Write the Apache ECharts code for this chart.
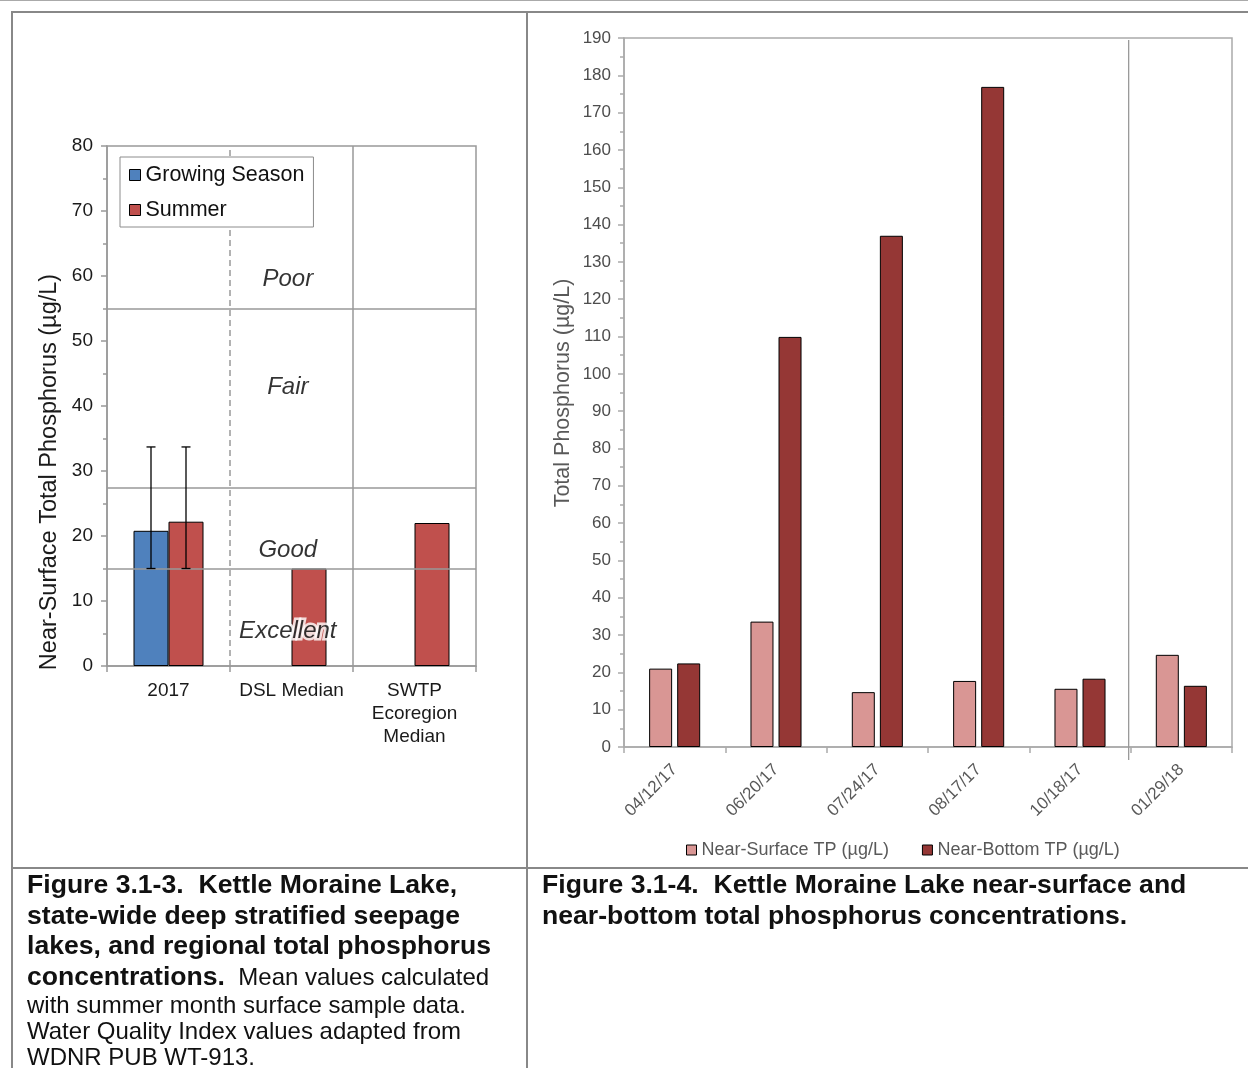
<!DOCTYPE html>
<html>
<head>
<meta charset="utf-8">
<script src="https://cdn.jsdelivr.net/npm/echarts@6/dist/echarts.min.js"></script>
<style>
html,body{margin:0;padding:0;background:#fff;}
#c{width:1248px;height:1068px;}
</style>
</head>
<body>
<div id="c"></div>
<script>
// ---------- Data: Figure 3.1-3 ----------
const cats1 = ['2017', 'DSL Median', 'SWTP\nEcoregion\nMedian'];
const growing = [20.8, null, null];
const summer = [22.2, 15.0, 22.0];
const growingErrLow = [15.0, null, null];
const growingErrHigh = [33.7, null, null];
const summerErrLow = [15.0, null, null];
const summerErrHigh = [33.7, null, null];
const qualityNames = ['Poor', 'Fair', 'Good', 'Excellent'];
const qualityLabelY = [59.5, 42.9, 17.8, 5.4];
const qualityLabelX = [1.47, 1.47, 1.47, 1.47];
const qualityBounds = [55, 27.5, 15];
const y1Max = 80, y1Step = 10;

// ---------- Data: Figure 3.1-4 ----------
const dates = ['04/12/17', '06/20/17', '07/24/17', '08/17/17', '10/18/17', '01/29/18'];
const surfaceTP = [21.0, 33.6, 14.7, 17.7, 15.6, 24.7];
const bottomTP = [22.4, 109.9, 137.0, 176.9, 18.3, 16.4];
const y2Max = 190, y2Step = 10;
const separatorAt = 5; // boundary between 10/18/17 and 01/29/18

const FONT = "'Liberation Sans', Arial, sans-serif";
const chart = echarts.init(document.getElementById('c'), null, {renderer: 'canvas'});

const errData = [];
growing.forEach((v, i) => { if (growingErrLow[i] != null) errData.push([i, growingErrLow[i], growingErrHigh[i], -1]); });
summer.forEach((v, i) => { if (summerErrLow[i] != null) errData.push([i, summerErrLow[i], summerErrHigh[i], 1]); });

const BAR1 = 35;

const frameColor = '#888';
const graphics = [
  {type: 'line', shape: {x1: 0, y1: 0.5, x2: 1248, y2: 0.5}, style: {stroke: '#aaa', lineWidth: 1}},
  {type: 'line', shape: {x1: 11, y1: 12, x2: 1248, y2: 12}, style: {stroke: frameColor, lineWidth: 2}},
  {type: 'line', shape: {x1: 12, y1: 11, x2: 12, y2: 1068}, style: {stroke: frameColor, lineWidth: 2}},
  {type: 'line', shape: {x1: 527, y1: 12, x2: 527, y2: 1068}, style: {stroke: frameColor, lineWidth: 2}},
  {type: 'line', shape: {x1: 12, y1: 868, x2: 1248, y2: 868}, style: {stroke: frameColor, lineWidth: 2}},
  {type: 'text', x: 50, y: 472, rotation: Math.PI / 2,
    style: {text: 'Near-Surface Total Phosphorus (µg/L)', font: '23.5px ' + FONT, fill: '#1a1a1a', textAlign: 'center', textVerticalAlign: 'middle'}},
  {type: 'text', x: 563, y: 393, rotation: Math.PI / 2,
    style: {text: 'Total Phosphorus (µg/L)', font: '21.5px ' + FONT, fill: '#595959', textAlign: 'center', textVerticalAlign: 'middle'}}
];
const capB = 'bold 26.6px ' + FONT, capR = '24px ' + FONT;
const leftBold = ['Figure 3.1-3.  Kettle Moraine Lake,', 'state-wide deep stratified seepage', 'lakes, and regional total phosphorus'];
const boldY = [886, 917, 947, 978];
leftBold.forEach((t, i) => graphics.push({type: 'text', x: 27, y: boldY[i], style: {text: t, font: capB, fill: '#111', textVerticalAlign: 'middle'}}));
graphics.push({type: 'text', x: 27, y: boldY[3], style: {
  text: '{b|concentrations.}{r|  Mean values calculated}', textVerticalAlign: 'middle',
  rich: {b: {font: capB, fill: '#111'}, r: {font: capR, fill: '#111'}}}});
const leftReg = ['with summer month surface sample data.', 'Water Quality Index values adapted from', 'WDNR PUB WT-913.'];
const regY = [1006, 1032, 1058];
leftReg.forEach((t, i) => graphics.push({type: 'text', x: 27, y: regY[i], style: {text: t, font: capR, fill: '#111', textVerticalAlign: 'middle'}}));
const rightBold = ['Figure 3.1-4.  Kettle Moraine Lake near-surface and', 'near-bottom total phosphorus concentrations.'];
rightBold.forEach((t, i) => graphics.push({type: 'text', x: 542, y: boldY[i], style: {text: t, font: capB, fill: '#111', textVerticalAlign: 'middle'}}));

const option = {
  animation: false,
  backgroundColor: '#fff',
  textStyle: {fontFamily: FONT},
  graphic: graphics,
  legend: [
    {
      data: ['Growing Season', 'Summer'], orient: 'vertical', left: 120, top: 157,
      padding: [7, 9, 6, 9], itemGap: 13, itemWidth: 11, itemHeight: 11,
      backgroundColor: '#fff', borderColor: '#8c8c8c', borderWidth: 1, borderRadius: 0,
      icon: 'rect', itemStyle: {borderColor: '#000', borderWidth: 1},
      textStyle: {fontSize: 21.5, color: '#111', fontFamily: FONT}, selectedMode: false, z: 20
    },
    {
      data: ['Near-Surface TP (µg/L)', 'Near-Bottom TP (µg/L)'], orient: 'horizontal', left: 681, top: 836,
      itemGap: 33, itemWidth: 10, itemHeight: 10, icon: 'rect', itemStyle: {borderColor: '#000', borderWidth: 1},
      textStyle: {fontSize: 18, color: '#595959', fontFamily: FONT}, selectedMode: false
    }
  ],
  grid: [
    {left: 107, top: 146, width: 369, height: 520, show: true, borderColor: '#999', borderWidth: 1.5, backgroundColor: 'transparent'},
    {left: 624, top: 38, width: 608, height: 709, show: true, borderColor: '#aaa', borderWidth: 1.5, backgroundColor: 'transparent'}
  ],
  xAxis: [
    {type: 'category', gridIndex: 0, data: cats1,
      axisLine: {lineStyle: {color: '#999', width: 1.5}},
      axisTick: {show: true, length: 6, lineStyle: {color: '#999', width: 1.5}},
      axisLabel: {fontSize: 19, color: '#1a1a1a', margin: 13, lineHeight: 23, interval: 0, fontFamily: FONT}},
    {type: 'value', gridIndex: 0, min: 0, max: 3, show: false},
    {type: 'category', gridIndex: 1, data: dates,
      axisLine: {lineStyle: {color: '#aaa', width: 1.5}},
      axisTick: {show: true, length: 6, lineStyle: {color: '#aaa', width: 1.5}},
      axisLabel: {fontSize: 17, color: '#595959', margin: 20, rotate: 45, interval: 0, fontFamily: FONT}},
    {type: 'value', gridIndex: 1, min: 0, max: 6, show: false}
  ],
  yAxis: [
    {type: 'value', gridIndex: 0, min: 0, max: y1Max, interval: y1Step,
      axisLine: {show: true, lineStyle: {color: '#999', width: 1.5}},
      axisTick: {show: true, length: 6, lineStyle: {color: '#999', width: 1.5}},
      minorTick: {show: true, splitNumber: 2, length: 4, lineStyle: {color: '#999', width: 1.5}},
      splitLine: {show: false},
      axisLabel: {fontSize: 19, color: '#1a1a1a', margin: 14, fontFamily: FONT}},
    {type: 'value', gridIndex: 1, min: 0, max: y2Max, interval: y2Step,
      axisLine: {show: true, lineStyle: {color: '#aaa', width: 1.5}},
      axisTick: {show: true, length: 6, lineStyle: {color: '#aaa', width: 1.5}},
      minorTick: {show: true, splitNumber: 2, length: 4, lineStyle: {color: '#aaa', width: 1.5}},
      splitLine: {show: false},
      axisLabel: {fontSize: 17, color: '#4d4d4d', margin: 13, fontFamily: FONT}}
  ],
  series: [
    {name: 'refLines', type: 'scatter', xAxisIndex: 1, yAxisIndex: 0, data: [], silent: true, z: 1,
      markLine: {silent: true, symbol: 'none', label: {show: false}, animation: false,
        lineStyle: {color: '#999', width: 1.5, type: 'solid'},
        data: qualityBounds.map(v => ({yAxis: v})).concat([
          {xAxis: 1, lineStyle: {type: [6, 4], color: '#999', width: 1.5}},
          {xAxis: 2, lineStyle: {type: 'solid', color: '#999', width: 1.5}}
        ])}},
    {name: 'Growing Season', type: 'bar', xAxisIndex: 0, yAxisIndex: 0, data: growing, barWidth: BAR1, barGap: '0%', z: 3,
      itemStyle: {color: '#4F81BD', borderColor: '#000', borderWidth: 1}},
    {name: 'Summer', type: 'bar', xAxisIndex: 0, yAxisIndex: 0, data: summer, barWidth: BAR1, barGap: '0%', z: 3,
      itemStyle: {color: '#C0504D', borderColor: '#000', borderWidth: 1}},
    {name: 'errors', type: 'custom', xAxisIndex: 0, yAxisIndex: 0, data: errData, z: 5, silent: true,
      renderItem: function (params, api) {
        const x = api.coord([api.value(0), 0])[0] + api.value(3) * BAR1 / 2;
        const yl = api.coord([api.value(0), api.value(1)])[1];
        const yh = api.coord([api.value(0), api.value(2)])[1];
        const s = {stroke: '#000', lineWidth: 1.3};
        return {type: 'group', children: [
          {type: 'line', shape: {x1: x, y1: yl, x2: x, y2: yh}, style: s},
          {type: 'line', shape: {x1: x - 4.5, y1: yh, x2: x + 4.5, y2: yh}, style: s},
          {type: 'line', shape: {x1: x - 4.5, y1: yl, x2: x + 4.5, y2: yl}, style: s}
        ]};
      }},
    {name: 'quality', type: 'scatter', xAxisIndex: 1, yAxisIndex: 0, symbolSize: 1, z: 10, silent: true,
      itemStyle: {color: 'rgba(0,0,0,0)'},
      data: qualityNames.map((n, i) => [qualityLabelX[i], qualityLabelY[i], n]),
      label: {show: true, position: 'inside', formatter: p => p.value[2], fontSize: 24, fontStyle: 'italic', color: '#000',
        fontFamily: FONT, textBorderColor: '#fff', textBorderWidth: 5}},
    {name: 'Near-Surface TP (µg/L)', type: 'bar', xAxisIndex: 2, yAxisIndex: 1, data: surfaceTP, barWidth: 23, barGap: '22%',
      itemStyle: {color: '#D99694', borderColor: '#000', borderWidth: 1}},
    {name: 'Near-Bottom TP (µg/L)', type: 'bar', xAxisIndex: 2, yAxisIndex: 1, data: bottomTP, barWidth: 23, barGap: '22%',
      itemStyle: {color: '#953735', borderColor: '#000', borderWidth: 1}},
    {name: 'separator', type: 'custom', xAxisIndex: 3, yAxisIndex: 1, data: [[separatorAt]], silent: true, clip: false, z: 2,
      renderItem: function (params, api) {
        const top = api.coord([api.value(0), y2Max]);
        const bot = api.coord([api.value(0), 0]);
        return {type: 'line', shape: {x1: top[0] - 2, y1: top[1] + 2, x2: bot[0] - 2, y2: bot[1] + 13},
          style: {stroke: '#999', lineWidth: 1.3}};
      }}
  ]
};
chart.setOption(option);
</script>
</body>
</html>
